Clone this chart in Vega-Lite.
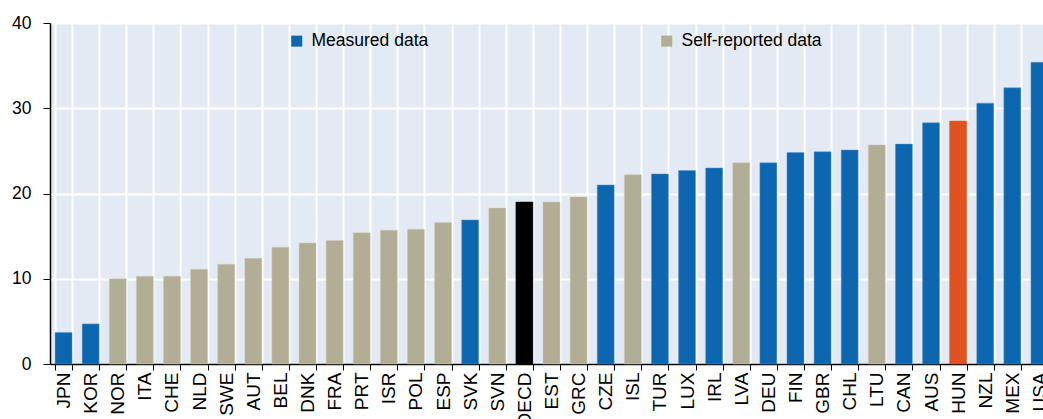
{
  "$schema": "https://vega.github.io/schema/vega-lite/v6.json",
  "autosize": {"type": "none"},
  "padding": {"left": 50, "top": 23, "right": 0, "bottom": 55},
  "width": 1003,
  "height": 341,
  "background": "#ffffff",
  "view": {"fill": "#e3eaf3", "stroke": null},
  "config": {
    "font": "Liberation Sans, Arial, sans-serif"
  },
  "data": {
    "values": [
      {"country": "JPN", "value": 3.7, "type": "Measured data"},
      {"country": "KOR", "value": 4.7, "type": "Measured data"},
      {"country": "NOR", "value": 10.0, "type": "Self-reported data"},
      {"country": "ITA", "value": 10.3, "type": "Self-reported data"},
      {"country": "CHE", "value": 10.3, "type": "Self-reported data"},
      {"country": "NLD", "value": 11.1, "type": "Self-reported data"},
      {"country": "SWE", "value": 11.7, "type": "Self-reported data"},
      {"country": "AUT", "value": 12.4, "type": "Self-reported data"},
      {"country": "BEL", "value": 13.7, "type": "Self-reported data"},
      {"country": "DNK", "value": 14.2, "type": "Self-reported data"},
      {"country": "FRA", "value": 14.5, "type": "Self-reported data"},
      {"country": "PRT", "value": 15.4, "type": "Self-reported data"},
      {"country": "ISR", "value": 15.7, "type": "Self-reported data"},
      {"country": "POL", "value": 15.8, "type": "Self-reported data"},
      {"country": "ESP", "value": 16.6, "type": "Self-reported data"},
      {"country": "SVK", "value": 16.9, "type": "Measured data"},
      {"country": "SVN", "value": 18.3, "type": "Self-reported data"},
      {"country": "OECD", "value": 19.0, "type": "OECD"},
      {"country": "EST", "value": 19.0, "type": "Self-reported data"},
      {"country": "GRC", "value": 19.6, "type": "Self-reported data"},
      {"country": "CZE", "value": 21.0, "type": "Measured data"},
      {"country": "ISL", "value": 22.2, "type": "Self-reported data"},
      {"country": "TUR", "value": 22.3, "type": "Measured data"},
      {"country": "LUX", "value": 22.7, "type": "Measured data"},
      {"country": "IRL", "value": 23.0, "type": "Measured data"},
      {"country": "LVA", "value": 23.6, "type": "Self-reported data"},
      {"country": "DEU", "value": 23.6, "type": "Measured data"},
      {"country": "FIN", "value": 24.8, "type": "Measured data"},
      {"country": "GBR", "value": 24.9, "type": "Measured data"},
      {"country": "CHL", "value": 25.1, "type": "Measured data"},
      {"country": "LTU", "value": 25.7, "type": "Self-reported data"},
      {"country": "CAN", "value": 25.8, "type": "Measured data"},
      {"country": "AUS", "value": 28.3, "type": "Measured data"},
      {"country": "HUN", "value": 28.5, "type": "HUN"},
      {"country": "NZL", "value": 30.6, "type": "Measured data"},
      {"country": "MEX", "value": 32.4, "type": "Measured data"},
      {"country": "USA", "value": 35.4, "type": "Measured data"}
    ]
  },
  "mark": {"type": "bar", "strokeWidth": 1, "strokeOpacity": 0.45},
  "encoding": {
    "x": {
      "field": "country",
      "type": "nominal",
      "sort": null,
      "title": null,
      "scale": {"paddingInner": 0.373, "paddingOuter": 0.1865},
      "axis": {
        "labelAngle": -90,
        "labelFontSize": 19,
        "labelColor": "#000000",
        "labelPadding": 2,
        "tickBand": "extent",
        "tickColor": "#000000",
        "tickSize": 6,
        "domainColor": "#000000",
        "domainWidth": 1.5,
        "grid": true,
        "gridColor": "#ffffff",
        "gridWidth": 2,
        "zindex": 0
      }
    },
    "y": {
      "field": "value",
      "type": "quantitative",
      "title": null,
      "scale": {"domain": [0, 40], "nice": false},
      "axis": {
        "values": [0, 10, 20, 30, 40],
        "labelFontSize": 17.5,
        "labelColor": "#000000",
        "labelPadding": 12,
        "tickColor": "#000000",
        "tickSize": 7,
        "domainColor": "#000000",
        "domainWidth": 1.5,
        "gridColor": "#ffffff",
        "gridWidth": 2
      }
    },
    "color": {
      "field": "type",
      "type": "nominal",
      "scale": {
        "domain": ["Measured data", "Self-reported data", "OECD", "HUN"],
        "range": ["#0c67b0", "#b2ae95", "#000000", "#e0521f"]
      },
      "legend": {
        "values": ["Measured data", "Self-reported data"],
        "title": null,
        "orient": "none",
        "legendX": 238,
        "legendY": 9,
        "direction": "horizontal",
        "symbolType": "square",
        "symbolSize": 121,
        "symbolStrokeWidth": 0,
        "labelFontSize": 17.5,
        "labelColor": "#000000",
        "labelOffset": 6,
        "columnPadding": 229,
        "labelLimit": 300
      }
    },
    "stroke": {
      "field": "type",
      "type": "nominal",
      "scale": {
        "domain": ["Measured data", "Self-reported data", "OECD", "HUN"],
        "range": ["#5f9bd0", "#d0cdbd", "#000000", "#e0521f"]
      },
      "legend": null
    }
  }
}
